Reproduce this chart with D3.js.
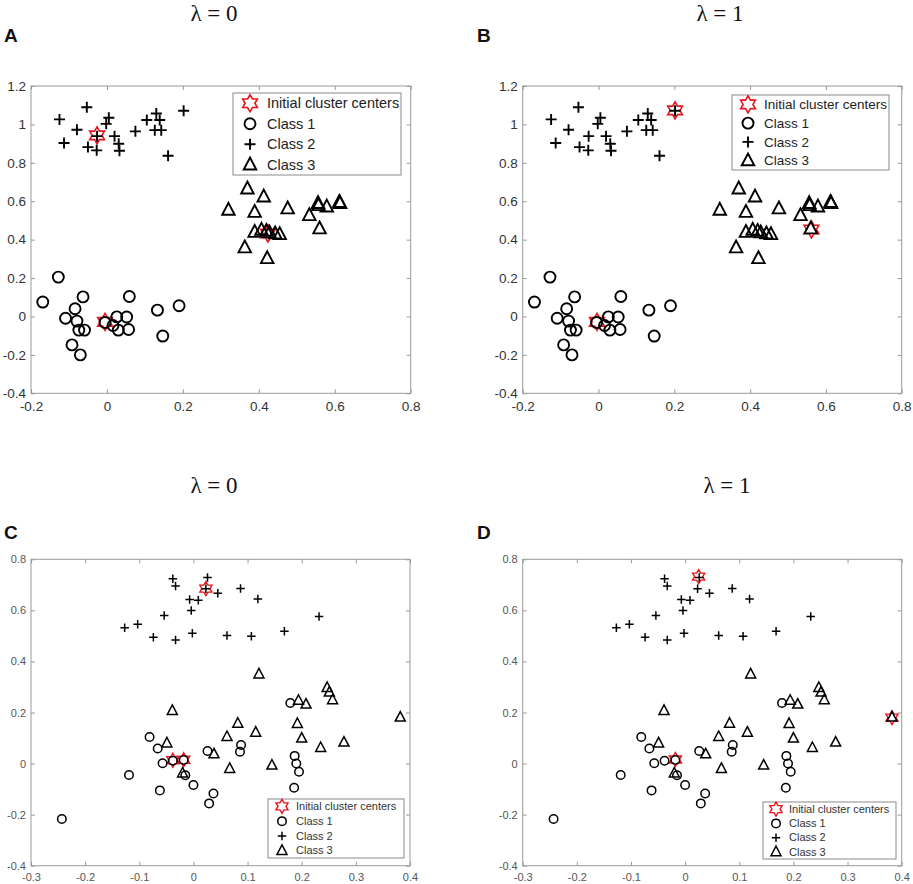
<!DOCTYPE html>
<html>
<head>
<meta charset="utf-8">
<script src="https://cdn.jsdelivr.net/npm/d3@7"></script>
<style>
  body { margin: 0; background: #fff; }
</style>
</head>
<body>
<div id="chart"></div>
<script>
// ---- data ----
// top row (A, B): same three clusters
const topClass1 = [
    [-0.128, 0.205], [-0.169, 0.075], [-0.109, -0.009], [-0.084, 0.040], [-0.063, 0.102],
    [-0.079, -0.024], [-0.074, -0.071], [-0.059, -0.071], [-0.092, -0.148], [-0.070, -0.200],
    [-0.005, -0.031], [0.016, -0.047], [0.026, -0.002], [0.030, -0.071], [0.052, -0.003],
    [0.057, -0.068], [0.059, 0.104], [0.133, 0.033], [0.147, -0.102], [0.190, 0.056]
];
const topClass2 = [
    [-0.125, 1.026], [-0.053, 1.089], [-0.079, 0.972], [-0.113, 0.903], [-0.050, 0.882],
    [-0.027, 0.865], [-0.026, 0.939], [-0.002, 1.003], [0.005, 1.035], [0.020, 0.939],
    [0.031, 0.899], [0.033, 0.863], [0.075, 0.964], [0.105, 1.023], [0.130, 1.057],
    [0.139, 1.023], [0.126, 0.970], [0.143, 0.970], [0.161, 0.837], [0.202, 1.071]
];
const topClass3 = [
    [0.370, 0.665], [0.413, 0.623], [0.320, 0.554], [0.389, 0.543], [0.476, 0.561],
    [0.533, 0.526], [0.556, 0.589], [0.557, 0.578], [0.579, 0.571], [0.612, 0.595],
    [0.614, 0.589], [0.560, 0.457], [0.389, 0.439], [0.407, 0.450], [0.420, 0.444],
    [0.428, 0.436], [0.443, 0.431], [0.455, 0.427], [0.363, 0.358], [0.422, 0.302]
];
const centersA = [[-0.026, 0.943], [-0.005, -0.028], [0.424, 0.432]];
const centersB = [[0.202, 1.073], [-0.004, -0.028], [0.562, 0.453]];

// bottom row (C, D): overlapping clusters
const bottomClass1 = [
    [-0.243, -0.217], [-0.119, -0.045], [-0.081, 0.104], [-0.066, 0.059], [-0.062, -0.105],
    [-0.057, 0.001], [-0.038, 0.011], [-0.018, 0.014], [-0.015, -0.046], [0.000, -0.084],
    [0.026, 0.049], [0.029, -0.156], [0.037, -0.117], [0.086, 0.046], [0.088, 0.073],
    [0.179, 0.237], [0.187, 0.030], [0.190, 0.000], [0.195, -0.032], [0.186, -0.095]
];
const bottomClass2 = [
    [-0.127, 0.532], [-0.103, 0.546], [-0.074, 0.495], [-0.054, 0.580], [-0.038, 0.724],
    [-0.033, 0.695], [-0.033, 0.484], [-0.007, 0.643], [0.009, 0.640], [-0.004, 0.599],
    [-0.002, 0.510], [0.026, 0.729], [0.023, 0.685], [0.045, 0.667], [0.062, 0.502],
    [0.087, 0.686], [0.107, 0.499], [0.119, 0.645], [0.168, 0.518], [0.232, 0.576]
];
const bottomClass3 = [
    [-0.039, 0.207], [-0.049, 0.080], [-0.020, -0.038], [0.038, 0.037], [0.062, 0.105],
    [0.067, -0.020], [0.082, 0.157], [0.115, 0.122], [0.121, 0.350], [0.145, -0.007],
    [0.192, 0.156], [0.194, 0.247], [0.208, 0.232], [0.200, 0.099], [0.235, 0.062],
    [0.247, 0.297], [0.251, 0.279], [0.257, 0.249], [0.278, 0.083], [0.382, 0.181]
];
const centersC = [[0.023, 0.685], [-0.038, 0.013], [-0.018, 0.015]];
const centersD = [[0.025, 0.732], [-0.018, 0.016], [0.382, 0.180]];

const legendLabels = ["Initial cluster centers", "Class 1", "Class 2", "Class 3"];
const topXTicks = [-0.2, 0, 0.2, 0.4, 0.6, 0.8];
const topYTicks = [-0.4, -0.2, 0, 0.2, 0.4, 0.6, 0.8, 1, 1.2];
const bottomXTicks = [-0.3, -0.2, -0.1, 0, 0.1, 0.2, 0.3, 0.4];
const bottomYTicks = [-0.4, -0.2, 0, 0.2, 0.4, 0.6, 0.8];

// ---- custom marker shapes (MATLAB style) ----
const plusSymbol = {
    draw(ctx, size) {
        const r = Math.sqrt(size) / 2;
        ctx.moveTo(-r, 0); ctx.lineTo(r, 0);
        ctx.moveTo(0, -r); ctx.lineTo(0, r);
    }
};
const triangleSymbol = {
    draw(ctx, size) {
        const r = Math.sqrt(size) / 2;
        ctx.moveTo(0, -r * 1.15);
        ctx.lineTo(r, r * 0.75);
        ctx.lineTo(-r, r * 0.75);
        ctx.closePath();
    }
};
const hexagramSymbol = {
    draw(ctx, size) {
        const R = Math.sqrt(size) / 2;
        const r = R / Math.sqrt(3);
        for (let i = 0; i < 12; i++) {
            const a = -Math.PI / 2 + i * Math.PI / 6;
            const rr = i % 2 === 0 ? R : r;
            if (i === 0) ctx.moveTo(rr * Math.cos(a), rr * Math.sin(a));
            else ctx.lineTo(rr * Math.cos(a), rr * Math.sin(a));
        }
        ctx.closePath();
    }
};
const circleSymbol = {
    draw(ctx, size) {
        const r = Math.sqrt(size) / 2;
        ctx.moveTo(r, 0);
        ctx.arc(0, 0, r, 0, 2 * Math.PI);
    }
};

const width = 913;
const height = 884;

const svg = d3.create("svg")
    .attr("width", width)
    .attr("height", height)
    .attr("viewBox", [0, 0, width, height])
    .style("font-family", "'Liberation Sans', Arial, sans-serif");

const panels = [
    {
        letter: "A", letterX: 4, title: "λ = 0", titleX: 214, titleY: 21, letterY: 42,
        left: 31, right: 410.7, top: 86, bottom: 393.3,
        xDomain: [-0.2, 0.8], yDomain: [-0.4, 1.2], xTicks: topXTicks, yTicks: topYTicks,
        c1: topClass1, c2: topClass2, c3: topClass3, centers: centersA,
        big: true, legend: { x: 233, y: 93, w: 168, h: 82, font: 14.5, mx: 17, tx: 34 }
    },
    {
        letter: "B", letterX: 477, title: "λ = 1", titleX: 720, titleY: 21, letterY: 42,
        left: 522.7, right: 901.7, top: 86, bottom: 393.3,
        xDomain: [-0.2, 0.8], yDomain: [-0.4, 1.2], xTicks: topXTicks, yTicks: topYTicks,
        c1: topClass1, c2: topClass2, c3: topClass3, centers: centersB,
        big: true, legend: { x: 732, y: 95, w: 157, h: 75, font: 13.5, mx: 16, tx: 32 }
    },
    {
        letter: "C", letterX: 4, title: "λ = 0", titleX: 214, titleY: 493, letterY: 539,
        left: 31, right: 410, top: 559.3, bottom: 865.7,
        xDomain: [-0.3, 0.4], yDomain: [-0.4, 0.8], xTicks: bottomXTicks, yTicks: bottomYTicks,
        c1: bottomClass1, c2: bottomClass2, c3: bottomClass3, centers: centersC,
        big: false, legend: { x: 268, y: 799, w: 136, h: 59, font: 11, mx: 14, tx: 28 }
    },
    {
        letter: "D", letterX: 477, title: "λ = 1", titleX: 727, titleY: 493, letterY: 539,
        left: 522.7, right: 901.7, top: 559.3, bottom: 865.7,
        xDomain: [-0.3, 0.4], yDomain: [-0.4, 0.8], xTicks: bottomXTicks, yTicks: bottomYTicks,
        c1: bottomClass1, c2: bottomClass2, c3: bottomClass3, centers: centersD,
        big: false, legend: { x: 763, y: 802, w: 133, h: 57, font: 11, mx: 13, tx: 26 }
    }
];

// MATLAB prints a plain hyphen for negatives
const fmt = d => (d === 0 ? "0" : String(+d.toFixed(1)));

function drawPanel(p) {
    const x = d3.scaleLinear(p.xDomain, [p.left, p.right]);
    const y = d3.scaleLinear(p.yDomain, [p.bottom, p.top]);
    const g = svg.append("g");

    const labelColor = p.big ? "#333" : "#555";
    const fontSize = p.big ? "13.5px" : "11px";

    // panel letter + title
    svg.append("text")
        .attr("x", p.letterX)
        .attr("y", p.letterY)
        .attr("font-weight", "bold")
        .attr("font-size", "19px")
        .attr("fill", "#111")
        .text(p.letter);

    svg.append("text")
        .attr("x", p.titleX)
        .attr("y", p.titleY)
        .attr("text-anchor", "middle")
        .attr("font-family", "'Liberation Serif', 'DejaVu Serif', serif")
        .attr("font-size", "23px")
        .attr("fill", "#111")
        .text(p.title);

    // axes with inward ticks on all four sides
    const tickLen = 4;
    const axisColor = "#9a9a9a";
    const styleAxis = sel => {
        sel.select(".domain").remove();
        sel.selectAll(".tick line").attr("stroke", axisColor);
        sel.selectAll(".tick text")
            .attr("fill", labelColor)
            .attr("font-size", fontSize)
            .attr("font-family", "'Liberation Sans', Arial, sans-serif");
    };

    g.append("g")
        .attr("transform", `translate(0,${p.bottom})`)
        .call(d3.axisBottom(x).tickValues(p.xTicks).tickFormat(fmt)
            .tickSizeInner(-tickLen).tickSizeOuter(0).tickPadding(p.big ? 8 : 8))
        .call(styleAxis);
    g.append("g")
        .attr("transform", `translate(0,${p.top})`)
        .call(d3.axisTop(x).tickValues(p.xTicks).tickFormat("")
            .tickSizeInner(-tickLen).tickSizeOuter(0))
        .call(styleAxis);
    g.append("g")
        .attr("transform", `translate(${p.left},0)`)
        .call(d3.axisLeft(y).tickValues(p.yTicks).tickFormat(fmt)
            .tickSizeInner(-tickLen).tickSizeOuter(0).tickPadding(5))
        .call(styleAxis);
    g.append("g")
        .attr("transform", `translate(${p.right},0)`)
        .call(d3.axisRight(y).tickValues(p.yTicks).tickFormat("")
            .tickSizeInner(-tickLen).tickSizeOuter(0))
        .call(styleAxis);

    g.append("rect")
        .attr("x", p.left)
        .attr("y", p.top)
        .attr("width", p.right - p.left)
        .attr("height", p.bottom - p.top)
        .attr("fill", "none")
        .attr("stroke", axisColor)
        .attr("stroke-width", 1);

    // marker sizes
    const s = p.big
        ? { circle: 11, plus: 11, tri: 12.5, star: 17, sw: 1.9, starSw: 1.6 }
        : { circle: 8.5, plus: 8.5, tri: 10, star: 14, sw: 1.5, starSw: 1.4 };

    const sym = (type, size) => d3.symbol().type(type).size(size * size);

    const series = [
        { data: p.c1, type: circleSymbol, size: s.circle },
        { data: p.c2, type: plusSymbol, size: s.plus },
        { data: p.c3, type: triangleSymbol, size: s.tri }
    ];

    // stars first, then classes on top of them
    g.append("g").selectAll("path")
        .data(p.centers)
        .join("path")
        .attr("transform", d => `translate(${x(d[0])},${y(d[1])})`)
        .attr("d", sym(hexagramSymbol, s.star))
        .attr("fill", "none")
        .attr("stroke", "#e8141b")
        .attr("stroke-width", s.starSw);

    series.forEach(ser => {
        g.append("g").selectAll("path")
            .data(ser.data)
            .join("path")
            .attr("transform", d => `translate(${x(d[0])},${y(d[1])})`)
            .attr("d", sym(ser.type, ser.size))
            .attr("fill", "none")
            .attr("stroke", "#000")
            .attr("stroke-width", s.sw);
    });

    // legend
    const L = p.legend;
    const lg = g.append("g");
    lg.append("rect")
        .attr("x", L.x)
        .attr("y", L.y)
        .attr("width", L.w)
        .attr("height", L.h)
        .attr("fill", "#fff")
        .attr("stroke", "#8a8a8a")
        .attr("stroke-width", 1);

    const rowH = L.h / 4;
    const legendTypes = [
        { type: hexagramSymbol, size: s.star, color: "#e8141b", sw: s.starSw },
        { type: circleSymbol, size: s.circle, color: "#000", sw: s.sw },
        { type: plusSymbol, size: s.plus, color: "#000", sw: s.sw },
        { type: triangleSymbol, size: s.tri, color: "#000", sw: s.sw }
    ];

    legendLabels.forEach((label, i) => {
        const cy = L.y + rowH * (i + 0.5);
        const m = legendTypes[i];
        lg.append("path")
            .attr("transform", `translate(${L.x + L.mx},${cy})`)
            .attr("d", sym(m.type, m.size))
            .attr("fill", "none")
            .attr("stroke", m.color)
            .attr("stroke-width", m.sw);
        lg.append("text")
            .attr("x", L.x + L.tx)
            .attr("y", cy)
            .attr("dy", "0.35em")
            .attr("font-size", L.font + "px")
            .attr("fill", p.big ? "#222" : "#333")
            .text(label);
    });
}

panels.forEach(drawPanel);

document.getElementById("chart").appendChild(svg.node());
</script>
</body>
</html>
